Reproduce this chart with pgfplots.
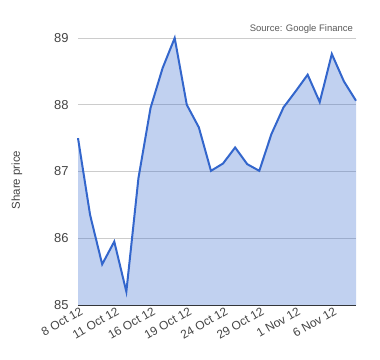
\documentclass[border=0pt]{standalone}
\usepackage{pgfplots}
\pgfplotsset{compat=1.18}
\usepackage{fontspec}
\setmainfont{Liberation Sans}
\definecolor{gline}{HTML}{3366CC}
\definecolor{gridc}{HTML}{CCCCCC}
\definecolor{txt}{HTML}{444444}
\begin{document}
\begin{tikzpicture}[x=1bp,y=1bp]
\path[use as bounding box] (0,0) rectangle (380,360);
\begin{axis}[
  at={(78bp,55bp)}, anchor=south west,
  scale only axis, width=278bp, height=267bp,
  xmin=0, xmax=23, ymin=85, ymax=89,
  clip=false,
  axis x line*=bottom, axis y line*=left,
  x axis line style={-, draw=black!80, line width=1pt},
  y axis line style={draw=none},
  xtick={0,3,6,9,12,15,18,21},
  xticklabels={8 Oct 12,11 Oct 12,16 Oct 12,19 Oct 12,24 Oct 12,29 Oct 12,1 Nov 12,6 Nov 12},
  x tick label style={rotate=30, anchor=north east, font=\fontsize{12}{14}\selectfont, text=txt, inner sep=1bp, xshift=1.5bp, yshift=-1bp},
  ytick={85,86,87,88,89},
  y tick label style={font=\fontsize{13}{15}\selectfont, text=txt},
  yticklabel style={xshift=-6bp},
  /pgf/number format/assume math mode=true,
  major tick length=0pt,
  ymajorgrids,
  grid style={gridc, line width=0.8pt},
  ylabel={Share price},
  ylabel style={at={(axis description cs:-0.22,0.468)}, anchor=center, font=\fontsize{11.5}{13}\selectfont, text=txt},
]
\addplot[fill=gline, fill opacity=0.3, draw=none] coordinates {
(0,87.50) (1,86.35) (2,85.61) (3,85.95) (4,85.20) (5,86.90) (6,87.95) (7,88.55)
(8,89.00) (9,88.00) (10,87.66) (11,87.01) (12,87.12) (13,87.36) (14,87.11) (15,87.01)
(16,87.56) (17,87.96) (18,88.20) (19,88.45) (20,88.04) (21,88.76) (22,88.35) (23,88.06)
} \closedcycle;
\addplot[gline, line width=2bp, line join=miter] coordinates {
(0,87.50) (1,86.35) (2,85.61) (3,85.95) (4,85.20) (5,86.90) (6,87.95) (7,88.55)
(8,89.00) (9,88.00) (10,87.66) (11,87.01) (12,87.12) (13,87.36) (14,87.11) (15,87.01)
(16,87.56) (17,87.96) (18,88.20) (19,88.45) (20,88.04) (21,88.76) (22,88.35) (23,88.06)
};
\end{axis}
\node[anchor=base east, font=\fontsize{9.5}{11}\selectfont, text=black!65, inner sep=0pt] at (353,329) {Source: Google Finance};
\end{tikzpicture}
\end{document}
